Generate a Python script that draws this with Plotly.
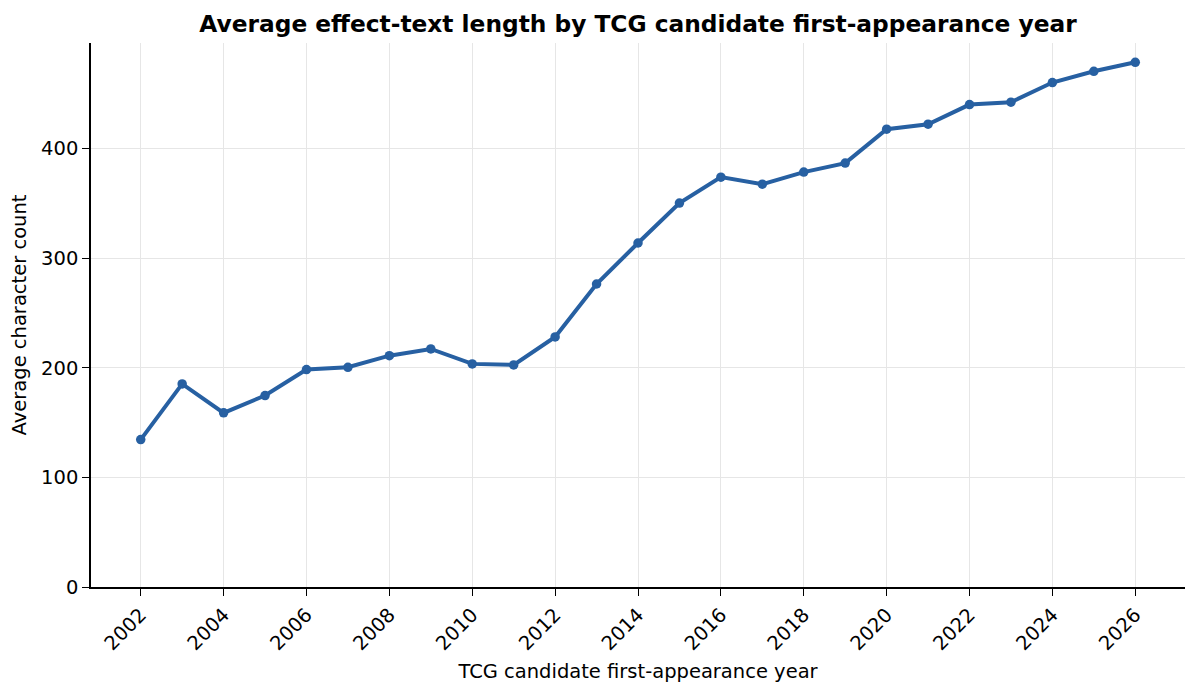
import plotly.graph_objects as go

years = list(range(2002, 2027))
avg_chars = [134.5, 185.3, 158.9, 174.7, 198.4, 200.5, 211.1, 217.2, 203.6, 202.6,
             228.2, 276.5, 313.9, 350.3, 374.0, 367.6, 378.6, 386.8, 417.8, 422.3,
             440.2, 442.4, 460.3, 470.6, 478.8]
x_ticks = list(range(2002, 2027, 2))
y_ticks = [0, 100, 200, 300, 400]

title = "Average effect-text length by TCG candidate first-appearance year"
x_title = "TCG candidate first-appearance year"
y_title = "Average character count"

line_color = "#2760a2"
font_family = "DejaVu Sans, Liberation Sans, sans-serif"

fig = go.Figure()
fig.add_trace(go.Scatter(
    x=years, y=avg_chars, mode="lines+markers",
    line=dict(color=line_color, width=4),
    marker=dict(color=line_color, size=9.5),
    showlegend=False,
))

W, H = 1184, 678
fig.update_layout(
    width=W, height=H,
    paper_bgcolor="white", plot_bgcolor="white",
    margin=dict(l=83, r=7, t=35, b=96),
    font=dict(family=font_family, size=19, color="black"),
    title=dict(text="<b>" + title + "</b>", x=(638 - 8) / W, xanchor="center",
               y=1 - 16 / H, yanchor="middle",
               font=dict(size=23.3, family=font_family, color="black")),
)

fig.update_xaxes(
    range=[2000.8, 2027.2], tickvals=x_ticks, ticktext=[str(t) for t in x_ticks],
    tickangle=-45, ticks="outside", ticklen=7, tickwidth=1.4, tickcolor="black",
    showline=True, linecolor="black", linewidth=1.5,
    showgrid=True, gridcolor="#e6e6e6", gridwidth=1, zeroline=False,
    title=dict(text=x_title, standoff=10, font=dict(size=19.5)),
    tickfont=dict(size=19.5),
)
fig.update_yaxes(
    range=[0, 496.4], tickvals=y_ticks, ticks="outside", ticklen=7, tickwidth=1.4,
    tickcolor="black", showline=True, linecolor="black", linewidth=1.5,
    showgrid=True, gridcolor="#e6e6e6", gridwidth=1, zeroline=False,
    title=dict(text=y_title, standoff=12, font=dict(size=19.5)),
    tickfont=dict(size=19.5),
)

fig.write_html("out.html")
